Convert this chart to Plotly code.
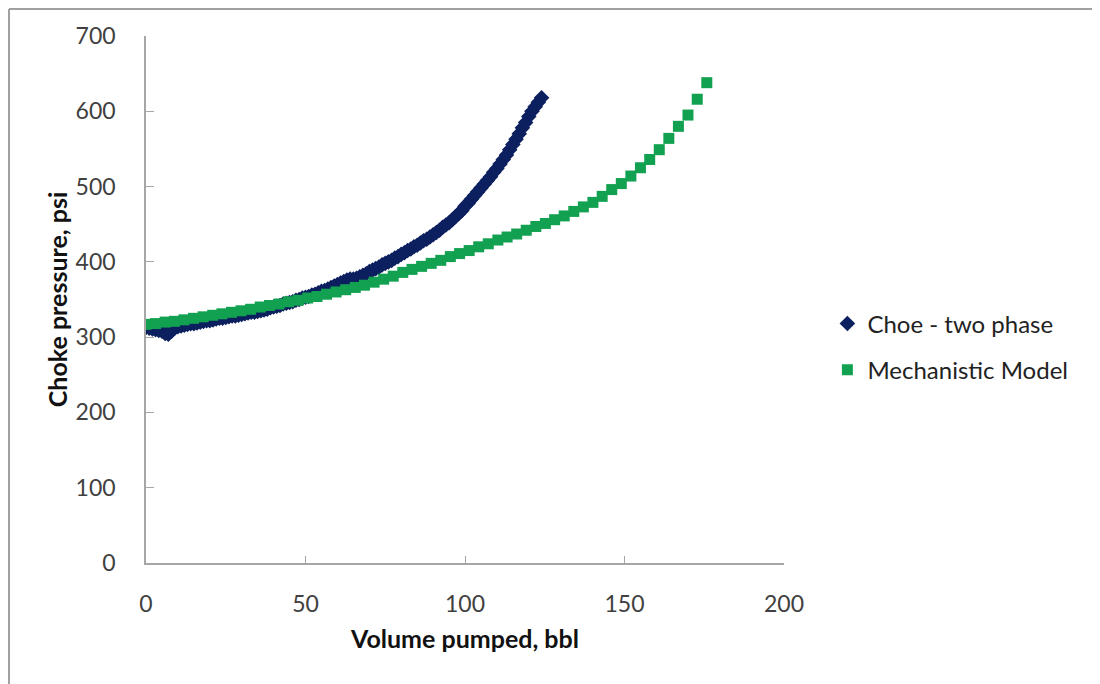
import plotly.graph_objects as go

# Choe - two phase (dark diamonds)
choe_x = list(range(0, 125))
choe_y = [313, 312, 311, 310, 309, 308, 305, 304, 308, 312,
          314, 315, 316, 317, 318, 318, 319, 320, 321, 322,
          322, 323, 324, 325, 325, 326, 327, 328, 328, 329,
          330, 331, 332, 333, 333, 334, 335, 336, 337, 339,
          340, 341, 342, 344, 345, 346, 347, 349, 350, 352,
          353, 354, 356, 357, 359, 361, 362, 364, 366, 368,
          370, 372, 374, 376, 377, 377, 378, 380, 382, 384,
          387, 389, 391, 393, 396, 398, 400, 402, 405, 407,
          410, 412, 415, 417, 420, 422, 425, 428, 430, 433,
          436, 439, 442, 446, 449, 452, 456, 460, 464, 468,
          474, 478, 483, 488, 493, 498, 503, 508, 513, 519,
          524, 530, 536, 542, 549, 556, 563, 570, 578, 585,
          593, 600, 606, 612, 618]

# Mechanistic Model (green squares)
mech_x = [0, 3.0, 6.0, 8.9, 11.9, 14.9, 17.9, 20.9, 23.8, 26.8,
          29.8, 32.8, 35.8, 38.7, 41.7, 44.7, 47.7, 50.7, 53.6, 56.6,
          59.6, 62.6, 65.6, 68.5, 71.5, 74.5, 77.5, 80.5, 83.4, 86.4,
          89.4, 92.4, 95.4, 98.3, 101.3, 104.3, 107.3, 110.3, 113.2, 116.2,
          119.2, 122.2, 125.2, 128.1, 131.1, 134.1, 137.1, 140.1, 143.0, 146.0,
          149.0, 152.0, 155.0, 157.9, 160.9, 163.9, 166.9, 169.9, 172.8, 175.8]
mech_y = [317, 318, 320, 321, 323, 325, 327, 329, 331, 333,
          335, 337, 340, 342, 344, 347, 349, 352, 354, 357,
          360, 363, 366, 369, 373, 377, 381, 386, 390, 394,
          398, 402, 407, 411, 415, 420, 424, 429, 433, 437,
          442, 447, 451, 456, 461, 467, 473, 479, 487, 496,
          504, 514, 525, 536, 549, 564, 580, 595, 616, 638]

x_ticks = [0, 50, 100, 150, 200]
y_ticks = [0, 100, 200, 300, 400, 500, 600, 700]

FONT = "Lato"
AXIS_COLOR = "#A6A6A6"
TEXT_COLOR = "#404040"
BORDER = dict(color="#A0A0A0", width=2)

fig = go.Figure()
fig.add_trace(go.Scatter(
    x=choe_x, y=choe_y, mode="markers", name="Choe - two phase",
    legendgroup="a",
    marker=dict(symbol="diamond", size=12, color="#0C1F5E"),
))
fig.add_trace(go.Scatter(
    x=mech_x, y=mech_y, mode="markers", name="Mechanistic Model",
    legendgroup="b",
    marker=dict(symbol="square", size=11, color="#12A150"),
))

fig.update_layout(
    width=1092, height=676,
    margin=dict(l=138, r=316, t=28, b=121),
    paper_bgcolor="white", plot_bgcolor="white",
    font=dict(family=FONT, size=23, color=TEXT_COLOR),
    showlegend=True,
    legend=dict(x=1.068, y=0.41, xanchor="left", yanchor="middle",
                traceorder="grouped", tracegroupgap=12,
                font=dict(family=FONT, size=24, color="#222222"),
                bgcolor="rgba(0,0,0,0)"),
    shapes=[
        dict(type="line", xref="paper", yref="paper",
             x0=-0.2147, x1=-0.2147, y0=-0.3, y1=1.0512, line=BORDER, layer="below"),
        dict(type="line", xref="paper", yref="paper",
             x0=-0.2147, x1=1.8, y0=1.0512, y1=1.0512, line=BORDER, layer="below"),
    ],
)

fig.update_xaxes(
    range=[0, 200], tickvals=x_ticks, ticks="inside", ticklen=7,
    tickcolor=AXIS_COLOR, showline=True, linecolor=AXIS_COLOR, linewidth=1.5,
    showgrid=False, zeroline=False, ticklabelstandoff=20,
    title=dict(text="<b>Volume pumped, bbl</b>", standoff=14,
               font=dict(family=FONT, size=25, color="#111111")),
)
fig.update_yaxes(
    range=[0, 700], tickvals=y_ticks, ticks="inside", ticklen=8,
    tickcolor=AXIS_COLOR, showline=True, linecolor=AXIS_COLOR, linewidth=1.5,
    showgrid=False, zeroline=False, ticklabelstandoff=24,
    title=dict(text="<b>Choke pressure, psi</b>", standoff=1,
               font=dict(family=FONT, size=25, color="#111111")),
)

fig.write_html("out.html")
